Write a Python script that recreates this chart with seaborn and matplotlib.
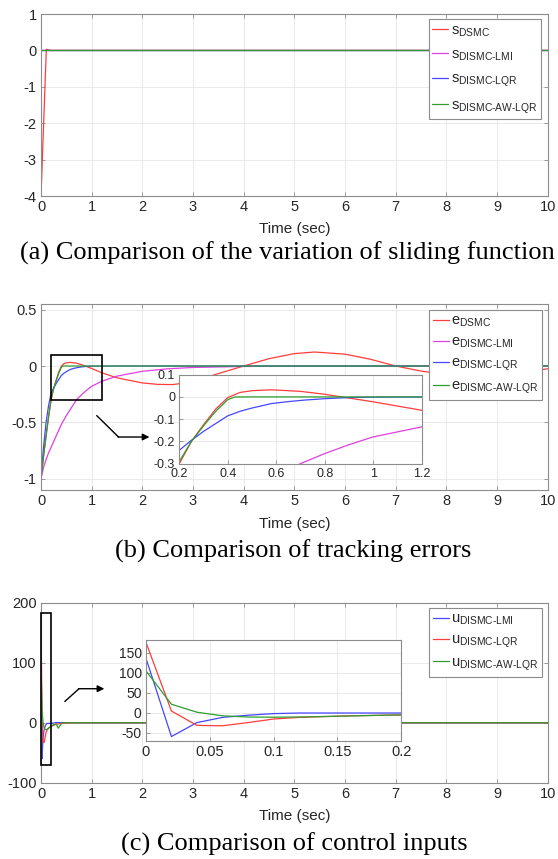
import matplotlib
matplotlib.use("Agg")
import matplotlib.pyplot as plt
import seaborn as sns
import pandas as pd
from matplotlib.patches import Rectangle
from matplotlib.lines import Line2D

# ---------------- data ----------------
# (a) sliding function
t_s_dsmc = [0, 0.105, 0.2, 10]
s_dsmc = [-4, 0.03, 0, 0]
t_s_other = [0, 10]
s_lmi = [0, 0]
s_lqr = [0, 0]
s_awlqr = [0, 0]

# (b) tracking errors
t_e_dsmc = [0, 0.05, 0.1, 0.15, 0.2, 0.25, 0.3, 0.35, 0.4, 0.45, 0.5, 0.58, 0.7, 0.8, 0.87,
            1.0, 1.2, 1.5, 2.0, 2.3, 2.6, 3.0, 3.45, 4.0, 4.5, 5.0, 5.4, 6.0, 6.5, 7.0, 7.5,
            8.0, 8.6, 9.2, 9.6, 10]
e_dsmc = [-1, -0.8, -0.62, -0.45, -0.3, -0.2, -0.125, -0.055, -0.003, 0.02, 0.028, 0.032, 0.025,
          0.012, 0, -0.022, -0.06, -0.105, -0.15, -0.163, -0.165, -0.14, -0.074, 0, 0.065, 0.11,
          0.124, 0.105, 0.06, 0, -0.045, -0.075, -0.09, -0.075, -0.05, -0.025]
t_e_lmi = [0, 0.05, 0.1, 0.15, 0.2, 0.3, 0.4, 0.5, 0.6, 0.7, 0.8, 0.9, 1.0, 1.2, 1.5, 2.0, 2.5,
           3.0, 4.0, 5.0, 7.0, 10]
e_lmi = [-1, -0.9, -0.83, -0.77, -0.72, -0.62, -0.52, -0.44, -0.37, -0.30, -0.255, -0.215, -0.18,
         -0.135, -0.09, -0.047, -0.025, -0.013, -0.004, -0.001, 0, 0]
t_e_lqr = [0, 0.02, 0.05, 0.1, 0.15, 0.2, 0.25, 0.3, 0.35, 0.4, 0.45, 0.5, 0.58, 0.65, 0.72, 0.8,
           0.9, 1.0, 1.5, 10]
e_lqr = [-1, -0.88, -0.72, -0.5, -0.35, -0.24, -0.195, -0.155, -0.12, -0.085, -0.065, -0.05,
         -0.03, -0.021, -0.014, -0.008, -0.003, -0.001, 0, 0]
t_e_awlqr = [0, 0.05, 0.1, 0.15, 0.2, 0.25, 0.3, 0.35, 0.4, 0.43, 10]
e_awlqr = [-1, -0.8, -0.62, -0.45, -0.29, -0.2, -0.13, -0.065, -0.012, 0, 0]

# (c) control inputs
t_u_lmi = [0, 0.02, 0.04, 0.06, 0.08, 0.1, 0.12, 0.2, 0.3, 0.5, 10]
u_lmi = [137, -60, -25, -12, -6.5, -2.5, -1, -1, 0.5, 0, 0]
t_u_lqr = [0, 0.02, 0.04, 0.06, 0.08, 0.1, 0.12, 0.14, 0.16, 0.18, 0.2, 0.3, 0.4, 0.6, 10]
u_lqr = [177, 4, -32, -33, -25, -16, -12, -10, -8, -6.8, -5.7, -2.5, -1, 0, 0]
t_u_awlqr = [0, 0.02, 0.04, 0.06, 0.08, 0.1, 0.12, 0.15, 0.2, 0.25, 0.3, 0.34, 0.38, 0.42, 0.5, 10]
u_awlqr = [105, 21, 1, -8, -11, -11.5, -11, -9, -5.7, -3, -2, -9, -4, 0, 0, 0]

x_ticks = [0, 1, 2, 3, 4, 5, 6, 7, 8, 9, 10]
a_yticks = [1, 0, -1, -2, -3, -4]
b_yticks = [0.5, 0, -0.5, -1]
c_yticks = [200, 100, 0, -100]
bi_xticks = [0.2, 0.4, 0.6, 0.8, 1.0, 1.2]
bi_yticks = [0.1, 0, -0.1, -0.2, -0.3]
ci_xticks = [0, 0.05, 0.1, 0.15, 0.2]
ci_yticks = [150, 100, 50, 0, -50]

labels_a = [r"$\mathrm{s}_{\text{DSMC}}$", r"$\mathrm{s}_{\text{DISMC-LMI}}$",
            r"$\mathrm{s}_{\text{DISMC-LQR}}$", r"$\mathrm{s}_{\text{DISMC-AW-LQR}}$"]
labels_b = [r"$\mathrm{e}_{\text{DSMC}}$", r"$\mathrm{e}_{\text{DISMC-LMI}}$",
            r"$\mathrm{e}_{\text{DISMC-LQR}}$", r"$\mathrm{e}_{\text{DISMC-AW-LQR}}$"]
labels_c = [r"$\mathrm{u}_{\text{DISMC-LMI}}$", r"$\mathrm{u}_{\text{DISMC-LQR}}$",
            r"$\mathrm{u}_{\text{DISMC-AW-LQR}}$"]
captions = ["(a) Comparison of the variation of sliding function",
            "(b) Comparison of tracking errors",
            "(c) Comparison of control inputs"]

# ---------------- style ----------------
sns.set_theme(style="whitegrid")
plt.rcParams["font.family"] = ["Liberation Sans", "DejaVu Sans"]
plt.rcParams["mathtext.fontset"] = "custom"
plt.rcParams["mathtext.rm"] = "Liberation Sans"
plt.rcParams["mathtext.it"] = "Liberation Sans:italic"
plt.rcParams["mathtext.bf"] = "Liberation Sans:bold"
plt.rcParams["mathtext.sf"] = "Liberation Sans"
plt.rcParams["axes.unicode_minus"] = False

RED = "#ff3c3c"
MAG = "#e040e0"
BLUE = "#4646ff"
GREEN = "#2e9e2e"
FRAME = "#8c8c8c"
GRID = "#e6e6e6"
TXT = "#262626"
LW = 0.9

W, H = 558.0, 859.0
fig = plt.figure(figsize=(5.58, 8.59), dpi=100)


def fmt(v):
    return "%g" % v


def style(ax, fs):
    ax.set_facecolor("white")
    for sp in ax.spines.values():
        sp.set_color(FRAME)
        sp.set_linewidth(0.8)
        sp.set_visible(True)
    ax.grid(True, color=GRID, linewidth=0.6)
    ax.tick_params(direction="in", length=3, width=0.6, color=FRAME, labelsize=fs,
                   labelcolor=TXT, pad=3, top=True, right=True, bottom=True, left=True)


def main_axes(top, bottom):
    return fig.add_axes([41 / W, 1 - bottom / H, (547.7 - 41) / W, (bottom - top) / H])


def line(ax, t, v, c):
    df = pd.DataFrame({"t": t, "v": v})
    sns.lineplot(data=df, x="t", y="v", color=c, linewidth=LW, ax=ax,
                 estimator=None, sort=False, legend=False)


def legend(ax, colors, labels, anchor, spacing):
    hs = [Line2D([0], [0], color=c, lw=LW) for c in colors]
    leg = ax.legend(hs, labels, loc="upper right", bbox_to_anchor=anchor, borderaxespad=0,
                    fontsize=10.5, frameon=True, fancybox=False, framealpha=1,
                    edgecolor=FRAME, borderpad=0.25, handlelength=1.1, handletextpad=0.15,
                    labelspacing=spacing)
    leg.get_frame().set_linewidth(0.8)
    for tx in leg.get_texts():
        tx.set_color(TXT)
    return leg


def finish(ax, xt, yt, xl, yl):
    ax.set_xlim(*xl)
    ax.set_ylim(*yl)
    ax.set_xticks(xt)
    ax.set_xticklabels([fmt(v) for v in xt])
    ax.set_yticks(yt)
    ax.set_yticklabels([fmt(v) for v in yt])
    ax.set_xlabel("")
    ax.set_ylabel("")


# ---------------- (a) ----------------
ax1 = main_axes(14, 196)
style(ax1, 10.5)
line(ax1, t_s_dsmc, s_dsmc, RED)
line(ax1, t_s_other, s_lmi, MAG)
line(ax1, t_s_other, s_lqr, BLUE)
line(ax1, t_s_other, s_awlqr, GREEN)
finish(ax1, x_ticks, a_yticks, (0, 10), (-4, 1))
legend(ax1, [RED, MAG, BLUE, GREEN], labels_a, (0.986, 0.97), 0.62)

# ---------------- (b) ----------------
ax2 = main_axes(304, 490)
style(ax2, 10.5)
line(ax2, t_e_dsmc, e_dsmc, RED)
line(ax2, t_e_lmi, e_lmi, MAG)
line(ax2, t_e_lqr, e_lqr, BLUE)
line(ax2, t_e_awlqr, e_awlqr, GREEN)
finish(ax2, x_ticks, b_yticks, (0, 10), (-1.1, 0.55))
legend(ax2, [RED, MAG, BLUE, GREEN], labels_b, (0.988, 0.966), 0.38)
ax2.add_patch(Rectangle((0.2, -0.3), 1.0, 0.4, fill=False, edgecolor="black", lw=1.2, zorder=5))
ax2.plot([1.10, 1.53], [-0.44, -0.63], color="black", lw=1.0, zorder=5)
ax2.annotate("", xy=(2.14, -0.63), xytext=(1.52, -0.63),
             arrowprops=dict(arrowstyle="-|>", color="black", lw=1.0, mutation_scale=10,
                             shrinkA=0, shrinkB=0), zorder=5)

axi2 = ax2.inset_axes([2.73, -0.866, 7.51 - 2.73, -0.077 + 0.866], transform=ax2.transData,
                      zorder=6)
style(axi2, 9)
line(axi2, t_e_dsmc, e_dsmc, RED)
line(axi2, t_e_lmi, e_lmi, MAG)
line(axi2, t_e_lqr, e_lqr, BLUE)
line(axi2, t_e_awlqr, e_awlqr, GREEN)
finish(axi2, bi_xticks, bi_yticks, (0.2, 1.2), (-0.3, 0.1))
axi2.tick_params(top=False, right=False)

# ---------------- (c) ----------------
ax3 = main_axes(603, 782.7)
style(ax3, 10.5)
line(ax3, t_u_lmi, u_lmi, BLUE)
line(ax3, t_u_lqr, u_lqr, RED)
line(ax3, t_u_awlqr, u_awlqr, GREEN)
finish(ax3, x_ticks, c_yticks, (0, 10), (-100, 200))
legend(ax3, [BLUE, RED, GREEN], labels_c, (0.988, 0.972), 0.38)
ax3.add_patch(Rectangle((0.0, -70), 0.2, 253, fill=False, edgecolor="black", lw=1.2, zorder=5,
                        clip_on=False))
ax3.plot([0.47, 0.75], [35.6, 56.9], color="black", lw=1.0, zorder=5)
ax3.annotate("", xy=(1.25, 56.9), xytext=(0.74, 56.9),
             arrowprops=dict(arrowstyle="-|>", color="black", lw=1.0, mutation_scale=10,
                             shrinkA=0, shrinkB=0), zorder=5)

axi3 = ax3.inset_axes([2.07, -29.6, 7.11 - 2.07, 138.8 + 29.6], transform=ax3.transData,
                      zorder=6)
style(axi3, 10)
line(axi3, t_u_lmi, u_lmi, BLUE)
line(axi3, t_u_lqr, u_lqr, RED)
line(axi3, t_u_awlqr, u_awlqr, GREEN)
finish(axi3, ci_xticks, ci_yticks, (0, 0.2), (-70, 183))
axi3.tick_params(top=False, right=False)
axi3.tick_params(axis="x", labelsize=10.5)

# ---------------- labels & captions ----------------
cx = (41 + 547.7) / 2 / W
for y in (229, 524, 816):
    fig.text(cx, 1 - y / H, "Time (sec)", ha="center", va="center", fontsize=11, color=TXT,
             family=["Liberation Sans", "DejaVu Sans"])
for cap, yb, x in zip(captions, (260, 558, 851), (287, 293, 294)):
    fig.text(x / W, 1 - yb / H, cap, ha="center", va="baseline", fontsize=19, color="black",
             family=["Liberation Serif", "DejaVu Serif"])

fig.savefig("out.png", dpi=100, facecolor="white")
